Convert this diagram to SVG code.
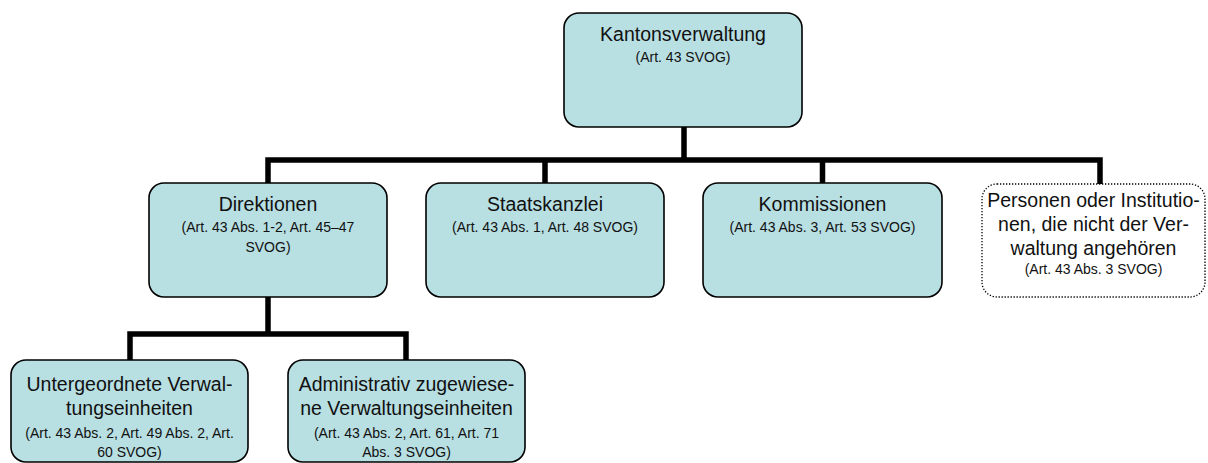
<svg xmlns="http://www.w3.org/2000/svg" width="1208" height="463" viewBox="0 0 1208 463">
<style>
.box{fill:#b8dfe2;stroke:#000;stroke-width:1.6}
.dot{fill:#fff;stroke:#000;stroke-width:1.3;stroke-dasharray:1.3 1.7}
.t{font-family:"Liberation Sans",Arial,sans-serif;font-size:19.5px;fill:#111;text-anchor:middle}
.s{font-family:"Liberation Sans",Arial,sans-serif;font-size:14px;fill:#111;text-anchor:middle}
.c{fill:none;stroke:#000;stroke-width:5.5;stroke-linejoin:miter}
</style>
<rect width="1208" height="463" fill="#fff"/>
<g id="connectors">
<path class="c" d="M684 127V160M268 183V160H1100V184M545 160V183M822.5 160V183"/>
<path class="c" d="M268 297V334M130 360V334H406V360"/>
</g>
<g id="kantonsverwaltung">
<rect class="box" x="564" y="13" width="238" height="114" rx="15"/>
<text class="t" x="683" y="41">Kantonsverwaltung</text>
<text class="s" x="683" y="62">(Art. 43 SVOG)</text>
</g>
<g id="direktionen">
<rect class="box" x="149" y="183" width="238" height="114" rx="15"/>
<text class="t" x="268" y="211">Direktionen</text>
<text class="s" x="268" y="232">(Art. 43 Abs. 1-2, Art. 45–47</text>
<text class="s" x="268" y="252">SVOG)</text>
</g>
<g id="staatskanzlei">
<rect class="box" x="426" y="183" width="238" height="114" rx="15"/>
<text class="t" x="545" y="211">Staatskanzlei</text>
<text class="s" x="545" y="232">(Art. 43 Abs. 1, Art. 48 SVOG)</text>
</g>
<g id="kommissionen">
<rect class="box" x="703" y="183" width="239" height="114" rx="15"/>
<text class="t" x="822.5" y="211">Kommissionen</text>
<text class="s" x="822.5" y="232">(Art. 43 Abs. 3, Art. 53 SVOG)</text>
</g>
<g id="personen">
<rect class="dot" x="982" y="184" width="223" height="113" rx="15"/>
<text class="t" x="1093.5" y="207">Personen oder Institutio-</text>
<text class="t" x="1093.5" y="231">nen, die nicht der Ver-</text>
<text class="t" x="1093.5" y="255">waltung angehören</text>
<text class="s" x="1093.5" y="274">(Art. 43 Abs. 3 SVOG)</text>
</g>
<g id="untergeordnete">
<rect class="box" x="11" y="360" width="237" height="102" rx="15"/>
<text class="t" x="129.5" y="391">Untergeordnete Verwal-</text>
<text class="t" x="129.5" y="415">tungseinheiten</text>
<text class="s" x="129.5" y="438">(Art. 43 Abs. 2, Art. 49 Abs. 2, Art.</text>
<text class="s" x="129.5" y="457">60 SVOG)</text>
</g>
<g id="administrativ">
<rect class="box" x="288" y="360" width="237" height="102" rx="15"/>
<text class="t" x="406.5" y="391">Administrativ zugewiese-</text>
<text class="t" x="406.5" y="415">ne Verwaltungseinheiten</text>
<text class="s" x="406.5" y="438">(Art. 43 Abs. 2, Art. 61, Art. 71</text>
<text class="s" x="406.5" y="457">Abs. 3 SVOG)</text>
</g>
</svg>
